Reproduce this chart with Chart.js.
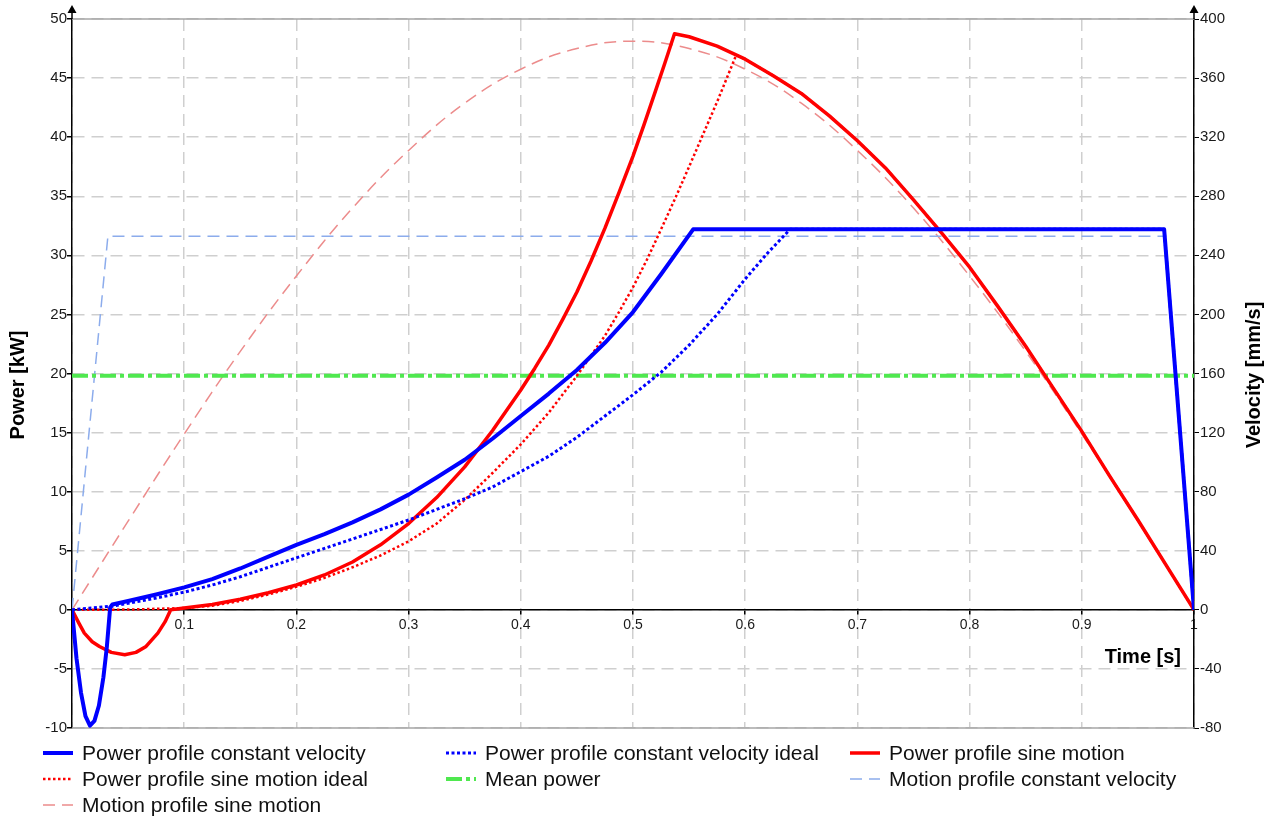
<!DOCTYPE html>
<html>
<head>
<meta charset="utf-8">
<title>Power profile</title>
<script src="https://cdn.jsdelivr.net/npm/chart.js@4.4.1/dist/chart.umd.min.js"></script>
<style>
  body { margin: 0; background: #fff; }
  canvas { display: block; }
</style>
</head>
<body>
<canvas id="grafico" width="1271" height="818"></canvas>
<script>
// time [s] / power [kW]
const tConstVel = [0, 0.004, 0.008, 0.012, 0.016, 0.02, 0.024, 0.028, 0.031, 0.034, 0.036, 0.05, 0.075, 0.1, 0.125, 0.15, 0.175, 0.2, 0.225, 0.25, 0.275, 0.3, 0.325, 0.35, 0.375, 0.4, 0.425, 0.45, 0.475, 0.5, 0.525, 0.5536, 0.9734, 1];
const pConstVel = [0, -4.1, -7.0, -9.0, -9.8, -9.4, -8.1, -5.7, -3.2, 0.2, 0.45, 0.75, 1.3, 1.9, 2.6, 3.5, 4.5, 5.5, 6.4, 7.4, 8.5, 9.75, 11.2, 12.7, 14.5, 16.4, 18.3, 20.3, 22.6, 25.2, 28.4, 32.2, 32.2, 0];

const tConstVelIdeal = [0, 0.035, 0.05, 0.075, 0.1, 0.125, 0.15, 0.175, 0.2, 0.225, 0.25, 0.275, 0.3, 0.325, 0.35, 0.375, 0.4, 0.425, 0.45, 0.475, 0.5, 0.525, 0.55, 0.575, 0.6, 0.62, 0.64, 0.9734, 1];
const pConstVelIdeal = [0, 0.3, 0.55, 1.0, 1.5, 2.1, 2.8, 3.6, 4.4, 5.2, 6.0, 6.8, 7.6, 8.5, 9.4, 10.4, 11.7, 13.0, 14.6, 16.4, 18.2, 20.1, 22.4, 25.0, 28.0, 30.2, 32.2, 32.2, 0];

const tSine = [0, 0.006, 0.011, 0.018, 0.0245, 0.035, 0.047, 0.057, 0.066, 0.0765, 0.083, 0.088, 0.1, 0.125, 0.15, 0.175, 0.2, 0.225, 0.25, 0.275, 0.3, 0.325, 0.35, 0.375, 0.4, 0.4125, 0.425, 0.4375, 0.45, 0.4625, 0.475, 0.4875, 0.5, 0.51, 0.52, 0.5285, 0.537, 0.55, 0.575, 0.6, 0.625, 0.65, 0.675, 0.7, 0.725, 0.75, 0.775, 0.8, 0.825, 0.85, 0.875, 0.9, 0.925, 0.95, 0.975, 1];
const pSine = [0, -1.1, -1.97, -2.7, -3.1, -3.6, -3.8, -3.6, -3.1, -1.97, -1.0, 0, 0.15, 0.45, 0.9, 1.45, 2.1, 2.95, 4.05, 5.5, 7.3, 9.5, 12.1, 15.2, 18.6, 20.45, 22.4, 24.6, 26.9, 29.5, 32.3, 35.3, 38.4, 41.1, 43.9, 46.3, 48.75, 48.5, 47.7, 46.6, 45.2, 43.7, 41.8, 39.7, 37.4, 34.7, 31.9, 29.0, 25.7, 22.3, 18.7, 15.1, 11.3, 7.6, 3.8, 0];

const tSineIdeal = [0, 0.05, 0.1, 0.125, 0.15, 0.175, 0.2, 0.225, 0.25, 0.275, 0.3, 0.325, 0.35, 0.375, 0.4, 0.425, 0.45, 0.475, 0.4875, 0.5, 0.5125, 0.525, 0.5375, 0.55, 0.5625, 0.575, 0.592, 0.6, 0.625, 0.65, 0.675, 0.7, 0.725, 0.75, 0.775, 0.8, 0.825, 0.85, 0.875, 0.9, 0.925, 0.95, 0.975, 1];
const pSineIdeal = [0, 0.02, 0.15, 0.35, 0.75, 1.3, 1.95, 2.7, 3.6, 4.6, 5.8, 7.3, 9.3, 11.6, 14.0, 16.7, 19.8, 23.2, 25.2, 27.3, 29.65, 32.2, 34.8, 37.5, 40.25, 43.0, 46.95, 46.6, 45.2, 43.7, 41.8, 39.7, 37.4, 34.7, 31.9, 29.0, 25.7, 22.3, 18.7, 15.1, 11.3, 7.6, 3.8, 0];

const tMean = [0, 1];
const pMean = [19.8, 19.8];

// time [s] / velocity [mm/s]
const tMotionConst = [0, 0.032, 0.9734, 1];
const vMotionConst = [0, 253, 253, 0];

const tMotionSine = [0, 0.05, 0.1, 0.15, 0.2, 0.25, 0.3, 0.35, 0.4, 0.45, 0.5, 0.55, 0.6, 0.65, 0.7, 0.75, 0.8, 0.85, 0.9, 0.95, 1];
const vMotionSine = [0, 60, 119, 175, 226, 272, 311, 343, 366, 380, 385, 380, 366, 343, 311, 272, 226, 175, 119, 60, 0];

const fontFamily = '"Liberation Sans", Arial, sans-serif';

function pts(ts, vs) {
  return ts.map((t, i) => ({ x: t, y: vs[i] }));
}

const series = [
  { label: 'Power profile constant velocity', data: pts(tConstVel, pConstVel), borderColor: '#0000ff', borderWidth: 4, yAxisID: 'y' },
  { label: 'Power profile constant velocity ideal', data: pts(tConstVelIdeal, pConstVelIdeal), borderColor: '#0000ff', borderWidth: 3, borderDash: [3, 2.5], yAxisID: 'y' },
  { label: 'Power profile sine motion', data: pts(tSine, pSine), borderColor: '#ff0000', borderWidth: 3.5, yAxisID: 'y' },
  { label: 'Power profile sine motion ideal', data: pts(tSineIdeal, pSineIdeal), borderColor: '#ff0000', borderWidth: 2.5, borderDash: [2.5, 2.5], yAxisID: 'y' },
  { label: 'Mean power', data: pts(tMean, pMean), borderColor: '#4fe84f', borderWidth: 4, borderDash: [16, 4, 4, 4], yAxisID: 'y' },
  { label: 'Motion profile constant velocity', data: pts(tMotionConst, vMotionConst), borderColor: '#8cacec', borderWidth: 1.5, borderDash: [12, 7], yAxisID: 'y1' },
  { label: 'Motion profile sine motion', data: pts(tMotionSine, vMotionSine), borderColor: '#ec8c8c', borderWidth: 1.5, borderDash: [12, 7], tension: 0.4, yAxisID: 'y1' }
];

const decor = {
  id: 'decor',
  beforeDatasetsDraw(chart) {
    const { ctx, chartArea: a } = chart;
    ctx.save();
    ctx.strokeStyle = '#a6a6a6';
    ctx.lineWidth = 1.5;
    ctx.beginPath();
    ctx.moveTo(a.left, a.top); ctx.lineTo(a.right, a.top);
    ctx.moveTo(a.left, a.bottom); ctx.lineTo(a.right, a.bottom);
    ctx.stroke();
    ctx.restore();
  },
  afterDraw(chart) {
    const { ctx, chartArea: a } = chart;
    ctx.save();
    // arrows on top of both value axes
    ctx.strokeStyle = '#000';
    ctx.fillStyle = '#000';
    ctx.lineWidth = 1.5;
    [a.left, a.right].forEach(x => {
      ctx.beginPath();
      ctx.moveTo(x, a.top); ctx.lineTo(x, a.top - 7);
      ctx.stroke();
      ctx.beginPath();
      ctx.moveTo(x, a.top - 14);
      ctx.lineTo(x - 4.5, a.top - 6);
      ctx.lineTo(x + 4.5, a.top - 6);
      ctx.closePath();
      ctx.fill();
    });

    // axis titles
    ctx.fillStyle = '#000';
    ctx.font = 'bold 20px ' + fontFamily;
    ctx.textBaseline = 'middle';
    ctx.textAlign = 'center';
    ctx.save();
    ctx.translate(18, 385);
    ctx.rotate(-Math.PI / 2);
    ctx.fillText('Power [kW]', 0, 0);
    ctx.restore();
    ctx.save();
    ctx.translate(1254, 375);
    ctx.rotate(-Math.PI / 2);
    ctx.fillText('Velocity [mm/s]', 0, 0);
    ctx.restore();
    ctx.textAlign = 'right';
    ctx.fillText('Time [s]', a.right - 13, 657);

    // legend in three columns
    const colX = [43, 446, 850];
    const rowY = [753, 779, 805];
    ctx.font = '21px ' + fontFamily;
    ctx.textAlign = 'left';
    chart.data.datasets.forEach((ds, i) => {
      const x = colX[i % 3];
      const y = rowY[Math.floor(i / 3)];
      ctx.save();
      ctx.strokeStyle = ds.borderColor;
      ctx.lineWidth = ds.borderWidth;
      ctx.setLineDash(ds.borderDash || []);
      ctx.beginPath();
      ctx.moveTo(x, y); ctx.lineTo(x + 30, y);
      ctx.stroke();
      ctx.restore();
      ctx.fillStyle = '#111';
      ctx.fillText(ds.label, x + 39, y + 1);
    });
    ctx.restore();
  }
};

const grafx = document.getElementById('grafico').getContext('2d');

const grafico = new Chart(grafx, {
  type: 'line',
  data: { datasets: series },
  options: {
    responsive: false,
    animation: false,
    layout: { padding: { top: 19, bottom: 90, left: 0, right: 0 } },
    elements: {
      point: { radius: 0 },
      line: { tension: 0, borderCapStyle: 'butt', borderJoinStyle: 'round' }
    },
    plugins: {
      legend: { display: false },
      tooltip: { enabled: false }
    },
    scales: {
      x: {
        type: 'linear',
        position: { y: 0 },
        min: 0,
        max: 1,
        grid: { color: '#cfcfcf', lineWidth: 1.5, tickColor: '#000', tickLength: 4, tickBorderDash: [] },
        border: { color: '#000', width: 1.5, dash: [12, 7] },
        ticks: {
          stepSize: 0.1,
          padding: 3,
          maxRotation: 0,
          color: '#1a1a1a',
          font: { family: fontFamily, size: 14 },
          callback: v => (v === 0 ? '' : String(+v.toFixed(1)))
        }
      },
      y: {
        position: 'left',
        min: -10,
        max: 50,
        afterFit: s => { s.width = 72; },
        grid: { color: '#cfcfcf', lineWidth: 1.5, tickColor: '#000', tickLength: 5, tickBorderDash: [] },
        border: { color: '#000', width: 1.5, dash: [12, 7] },
        ticks: { stepSize: 5, padding: 0, color: '#1a1a1a', font: { family: fontFamily, size: 15 } }
      },
      y1: {
        position: 'right',
        min: -80,
        max: 400,
        afterFit: s => { s.width = 77; },
        grid: { drawOnChartArea: false, tickColor: '#000', tickLength: 5 },
        border: { color: '#000', width: 1.5 },
        ticks: { stepSize: 40, padding: 1, color: '#1a1a1a', font: { family: fontFamily, size: 15 } }
      }
    }
  },
  plugins: [decor]
});
</script>
</body>
</html>
